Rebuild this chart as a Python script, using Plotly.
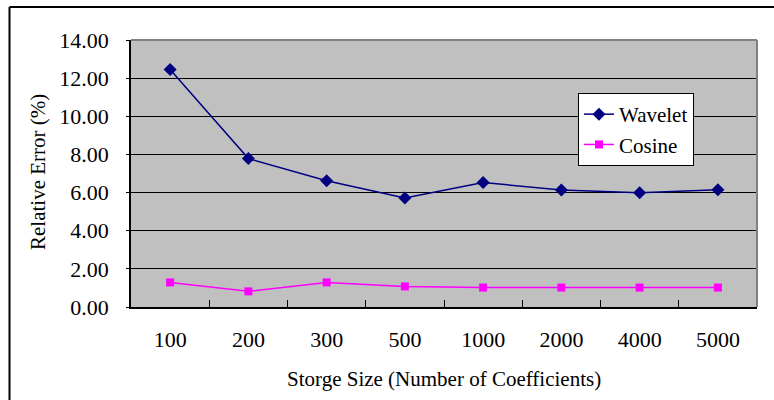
import plotly.graph_objects as go

categories = ["100", "200", "300", "500", "1000", "2000", "4000", "5000"]
wavelet = [12.45, 7.78, 6.62, 5.72, 6.53, 6.13, 5.99, 6.15]
cosine = [1.29, 0.82, 1.29, 1.08, 1.02, 1.02, 1.02, 1.02]

FONT = "Liberation Serif, Times New Roman, serif"

fig = go.Figure()
fig.add_trace(go.Scatter(
    x=categories, y=wavelet, name="Wavelet", mode="lines+markers",
    line=dict(color="#000080", width=1.5),
    marker=dict(symbol="diamond", size=10, color="#000080"),
))
fig.add_trace(go.Scatter(
    x=categories, y=cosine, name="Cosine", mode="lines+markers",
    line=dict(color="#FF00FF", width=1.5),
    marker=dict(symbol="square", size=8, color="#FF00FF"),
))

L, R, T, B = 131, 17, 40, 93
W, H = 774, 400
pw, ph = W - L - R, H - T - B

def px(x):
    return (x - L) / pw

def py(y):
    return (H - B - y) / ph

fig.update_layout(
    width=W, height=H,
    margin=dict(l=L, r=R, t=T, b=B),
    paper_bgcolor="white",
    plot_bgcolor="#C0C0C0",
    font=dict(family=FONT, size=21, color="black"),
    showlegend=True,
    legend=dict(
        x=px(578), y=py(93), xanchor="left", yanchor="top",
        bgcolor="white", bordercolor="black", borderwidth=1,
        font=dict(family=FONT, size=21),
        tracegroupgap=0,
    ),
)
fig.update_xaxes(
    type="category", showgrid=False, zeroline=False,
    showline=True, linecolor="black", linewidth=1.5,
    ticks="inside", ticklen=7, tickcolor="black", tickson="boundaries",
    tickfont=dict(family=FONT, size=22), ticklabelstandoff=12,
    range=[-0.5, 7.5],
)
fig.update_yaxes(
    range=[0, 14], dtick=2, tickformat=".2f",
    showgrid=True, gridcolor="black", gridwidth=1,
    zeroline=False, showline=True, linecolor="black", linewidth=1.5,
    ticks="outside", ticklen=3, tickcolor="black",
    tickfont=dict(family=FONT, size=22), ticklabelstandoff=13,
)

# plot area top/right grey edges
fig.add_shape(type="line", xref="paper", yref="paper", x0=0, x1=1, y0=1, y1=1,
              line=dict(color="#808080", width=2))
fig.add_shape(type="line", xref="paper", yref="paper", x0=1, x1=1, y0=0, y1=1,
              line=dict(color="#808080", width=2))

# outer chart frame (top and left visible)
fig.add_shape(type="line", xref="paper", yref="paper", x0=px(9.5), x1=px(780), y0=py(7), y1=py(7),
              line=dict(color="black", width=2))
fig.add_shape(type="line", xref="paper", yref="paper", x0=px(9.5), x1=px(9.5), y0=py(7), y1=py(405),
              line=dict(color="black", width=2))

fig.add_annotation(text="Storge Size (Number of Coefficients)", xref="paper", yref="paper",
                   x=px(444), y=py(379), showarrow=False, xanchor="center", yanchor="middle",
                   font=dict(family=FONT, size=21))
fig.add_annotation(text="Relative Error (%)", xref="paper", yref="paper",
                   x=px(38), y=py(172), showarrow=False, textangle=-90,
                   xanchor="center", yanchor="middle",
                   font=dict(family=FONT, size=21))

fig.write_html("out.html")
